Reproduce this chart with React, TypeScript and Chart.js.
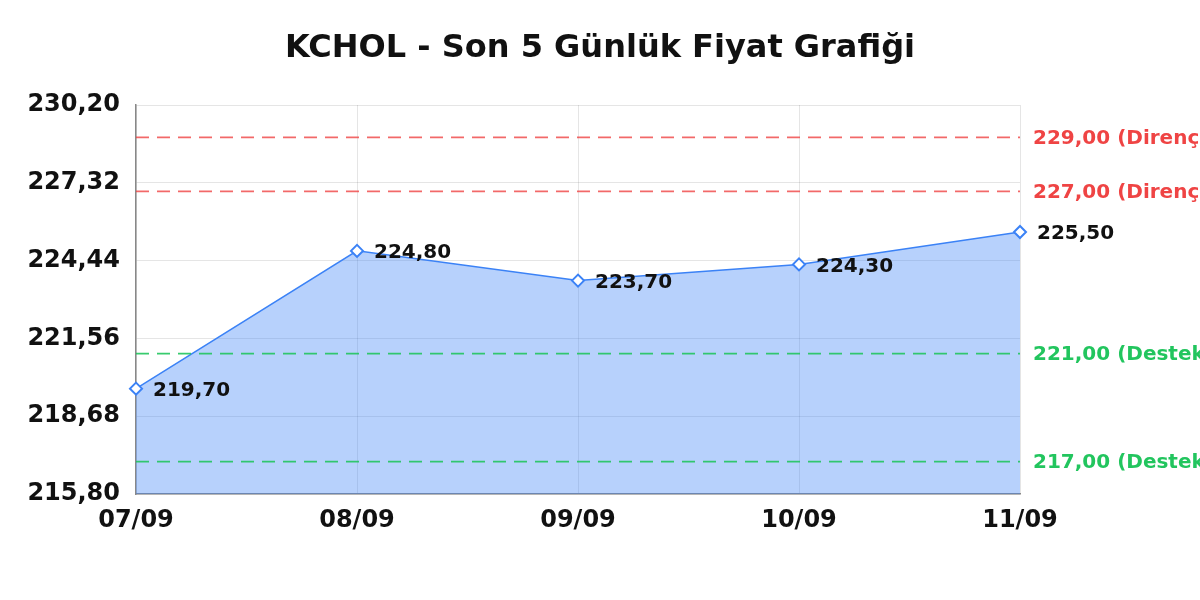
import React, { useEffect, useRef } from "react";
import { Chart, registerables } from "chart.js";

Chart.register(...registerables);

const titleText = "KCHOL - Son 5 Günlük Fiyat Grafiği";
const categories = ["07/09", "08/09", "09/09", "10/09", "11/09"];
const prices = [219.7, 224.8, 223.7, 224.3, 225.5];
const yTicks = [215.8, 218.68, 221.56, 224.44, 227.32, 230.2];
const resistanceLevels = [229.0, 227.0];
const supportLevels = [221.0, 217.0];
const resistanceLabel = "Direnç";
const supportLabel = "Destek";

const FONT = "'DejaVu Sans', sans-serif";
const fmt = (v: number) => v.toFixed(2).replace(".", ",");

const refLinesPlugin = {
  id: "refLines",
  afterDatasetsDraw(chart: any) {
    const { ctx, chartArea, scales } = chart;
    const y = scales.y;
    const draw = (levels: number[], lineColor: string, textColor: string, name: string) => {
      levels.forEach((lv) => {
        const py = y.getPixelForValue(lv);
        ctx.save();
        ctx.strokeStyle = lineColor;
        ctx.lineWidth = 1.8;
        ctx.setLineDash([13, 8]);
        ctx.beginPath();
        ctx.moveTo(chartArea.left, py);
        ctx.lineTo(chartArea.right, py);
        ctx.stroke();
        ctx.setLineDash([]);
        ctx.fillStyle = textColor;
        ctx.font = `bold 20px ${FONT}`;
        ctx.textAlign = "left";
        ctx.textBaseline = "middle";
        ctx.fillText(`${fmt(lv)} (${name})`, chartArea.right + 13, py + 1);
        ctx.restore();
      });
    };
    draw(resistanceLevels, "rgba(239,68,68,0.8)", "#ef4444", resistanceLabel);
    draw(supportLevels, "rgba(34,197,94,0.9)", "#22c55e", supportLabel);
  },
  afterDraw(chart: any) {
    const { ctx } = chart;
    const meta = chart.getDatasetMeta(0);
    ctx.save();
    ctx.fillStyle = "#111";
    ctx.font = `bold 20px ${FONT}`;
    ctx.textAlign = "left";
    ctx.textBaseline = "middle";
    meta.data.forEach((pt: any, i: number) => {
      ctx.fillText(fmt(prices[i]), pt.x + 17, pt.y + 2);
    });
    ctx.font = `bold 32px ${FONT}`;
    ctx.textAlign = "center";
    ctx.fillText(titleText, chart.width / 2, 49);
    ctx.restore();
  },
};

export default function App() {
  const ref = useRef<HTMLCanvasElement>(null);
  useEffect(() => {
    document.body.style.margin = "0";
    const chart = new Chart(ref.current!, {
      type: "line",
      data: {
        labels: categories,
        datasets: [
          {
            data: prices,
            borderColor: "#3b82f6",
            borderWidth: 1.5,
            backgroundColor: "rgba(59,130,246,0.37)",
            fill: "start",
            tension: 0,
            pointStyle: "rectRot",
            pointRadius: 6,
            pointBackgroundColor: "#ffffff",
            pointBorderColor: "#3b82f6",
            pointBorderWidth: 2,
          },
        ],
      },
      options: {
        animation: false,
        responsive: false,
        layout: { padding: { left: 0, right: 180, top: 105, bottom: 0 } },
        plugins: {
          legend: { display: false },
          tooltip: { enabled: false },
          title: { display: false },
        },
        scales: {
          x: {
            grid: { color: "rgba(0,0,0,0.1)", drawTicks: false },
            border: { display: true, color: "#888", width: 1.5 },
            ticks: {
              color: "#111",
              font: { family: FONT, size: 24, weight: "bold" },
              padding: 12,
              maxRotation: 0,
            },
            afterFit: (s: any) => {
              s.height = 106;
            },
          },
          y: {
            min: 215.8,
            max: 230.2,
            grid: { color: "rgba(0,0,0,0.1)", drawTicks: false },
            border: { display: true, color: "#888", width: 1.5 },
            afterBuildTicks: (s: any) => {
              s.ticks = yTicks.map((v) => ({ value: v }));
            },
            ticks: {
              color: "#111",
              font: { family: FONT, size: 24, weight: "bold" },
              padding: 16,
              callback: (v: any) => fmt(Number(v)),
            },
            afterFit: (s: any) => {
              s.width = 136;
            },
          },
        },
      },
      plugins: [refLinesPlugin],
    });
    return () => chart.destroy();
  }, []);
  return (
    <div style={{ width: 1200, height: 600, background: "#fff" }}>
      <canvas ref={ref} width={1200} height={600} style={{ display: "block" }} />
    </div>
  );
}
